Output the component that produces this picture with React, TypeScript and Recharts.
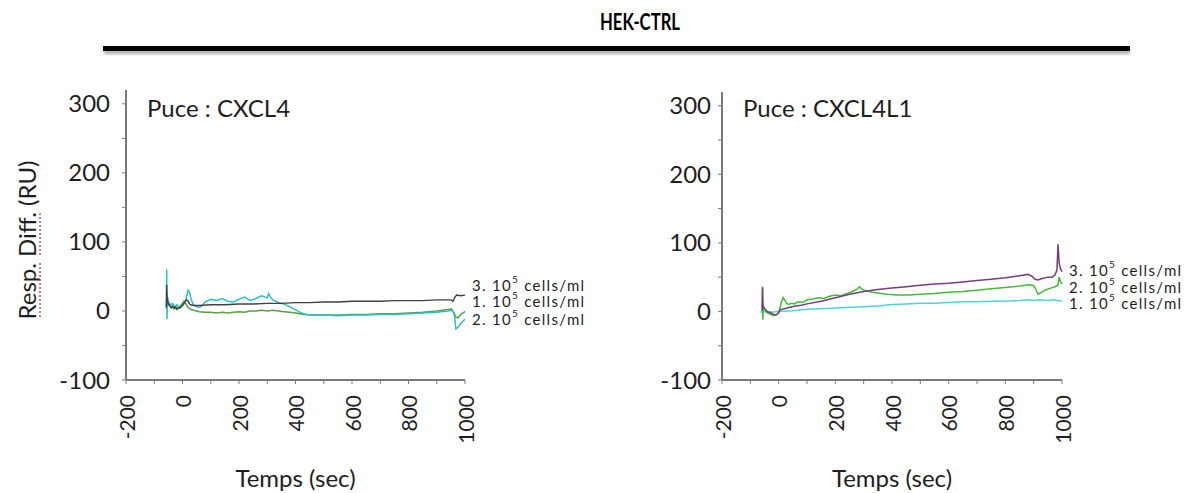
import React from 'react';
import { LineChart, Line, XAxis, YAxis, ReferenceDot } from 'recharts';

type Pt = [number, number];

// CXCL4 chip: [time (sec), differential response (RU)]
const cxcl4Cells3: Pt[] = [
  [-57, 5], [-56, 38], [-55, 22], [-53, 14], [-50, 10], [-45, 8], [-40, 5], [-35, 7], [-30, 4],
  [-25, 6], [-20, 3], [-15, 5], [-10, 4], [-5, 6], [0, 8], [5, 11], [10, 14], [15, 16], [20, 14],
  [25, 10], [30, 9], [40, 8], [60, 8], [100, 9], [150, 9], [200, 10], [250, 10], [300, 11],
  [350, 11], [400, 12], [450, 12], [500, 13], [550, 13], [600, 14], [650, 14], [700, 14],
  [750, 15], [800, 15], [850, 15], [900, 16], [950, 16], [958, 14], [963, 19], [970, 23],
  [985, 22], [1000, 23],
];
const cxcl4Cells2: Pt[] = [
  [-57, 5], [-55, 25], [-53, 14], [-50, 10], [-45, 7], [-40, 4], [-35, 6], [-30, 3], [-25, 5],
  [-20, 2], [-15, 4], [-10, 6], [-5, 9], [0, 11], [5, 14], [10, 12], [15, 8], [20, 5], [30, 2],
  [40, 1], [60, -1], [80, -2], [100, -2], [120, -3], [140, -2], [160, -3], [180, -2], [200, -1],
  [220, -2], [240, 0], [260, 0], [280, 1], [300, 0], [320, 1], [340, 0], [360, -1], [380, -2],
  [400, -3], [430, -5], [460, -6], [500, -6], [550, -6], [600, -5], [650, -5], [700, -4],
  [750, -4], [800, -3], [850, -2], [900, 0], [940, 2], [952, 3], [960, -2], [968, -9],
  [975, -10], [985, -5], [1000, -1],
];
const cxcl4Cells1: Pt[] = [
  [-57, 5], [-56, 60], [-55, -12], [-53, 20], [-50, 14], [-45, 10], [-40, 9], [-35, 11],
  [-30, 8], [-25, 6], [-20, 9], [-15, 7], [-10, 5], [-5, 6], [0, 8], [5, 10], [10, 14],
  [15, 22], [20, 30], [25, 27], [30, 18], [35, 12], [40, 9], [50, 6], [60, 5], [70, 8],
  [80, 13], [90, 15], [100, 17], [120, 15], [140, 18], [160, 14], [180, 13], [200, 17],
  [220, 20], [240, 15], [260, 18], [280, 22], [300, 19], [305, 25], [310, 21], [320, 16],
  [340, 12], [360, 10], [380, 6], [400, 2], [420, -3], [440, -5], [460, -6], [500, -6],
  [550, -7], [600, -6], [650, -6], [700, -5], [750, -5], [800, -4], [850, -3], [900, -2],
  [940, 0], [955, 1], [962, -5], [968, -26], [975, -24], [985, -18], [1000, -12],
];

// CXCL4L1 chip
const cxcl4l1Cells3: Pt[] = [
  [-58, 2], [-57, 36], [-56, 12], [-54, 6], [-50, 4], [-45, 2], [-40, 0], [-35, -1], [-30, -2],
  [-25, -3], [-20, -4], [-15, -5], [-10, -5], [-5, -4], [0, -2], [5, 2], [10, 3], [20, 4],
  [40, 6], [60, 8], [80, 9], [100, 11], [150, 15], [200, 20], [250, 25], [300, 29], [350, 32],
  [400, 34], [450, 36], [500, 38], [550, 40], [600, 41], [650, 43], [700, 45], [750, 47],
  [800, 49], [850, 52], [880, 54], [895, 51], [905, 47], [915, 46], [930, 48], [950, 50],
  [965, 50], [975, 53], [982, 60], [986, 98], [990, 70], [995, 62], [1000, 58],
];
const cxcl4l1Cells2: Pt[] = [
  [-58, 0], [-57, 34], [-56, -12], [-54, 8], [-50, 4], [-45, 0], [-40, -2], [-35, -3],
  [-30, -4], [-25, -5], [-20, -6], [-15, -6], [-10, -5], [-5, -4], [0, -1], [5, 6], [10, 14],
  [16, 20], [22, 16], [28, 12], [35, 10], [45, 12], [55, 11], [70, 14], [85, 13], [100, 17],
  [120, 18], [140, 20], [160, 19], [180, 22], [200, 24], [220, 23], [240, 26], [260, 29],
  [275, 32], [285, 36], [295, 32], [310, 30], [330, 28], [350, 27], [380, 25], [420, 24],
  [460, 24], [500, 25], [550, 26], [600, 28], [650, 29], [700, 31], [750, 33], [800, 35],
  [850, 37], [885, 39], [900, 38], [908, 32], [915, 25], [925, 27], [940, 31], [960, 34],
  [975, 36], [985, 38], [990, 50], [995, 43], [1000, 40],
];
const cxcl4l1Cells1: Pt[] = [
  [-62, -2], [-60, 3], [-58, 0], [-50, 0], [-40, -1], [-30, 0], [-20, -1], [-10, 0], [0, 0],
  [50, 1], [100, 3], [150, 4], [200, 5], [250, 6], [300, 7], [350, 8], [400, 10], [450, 11],
  [500, 12], [550, 12], [600, 13], [650, 14], [700, 14], [750, 15], [800, 15], [850, 16],
  [880, 17], [900, 16], [920, 17], [950, 16], [970, 17], [985, 16], [1000, 15],
];

const timeTicks = [-200, -100, 0, 100, 200, 300, 400, 500, 600, 700, 800, 900, 1000];
const respTicks = [-100, -50, 0, 50, 100, 150, 200, 250, 300];

const FONT = 'Lato, "Open Sans", sans-serif';
const INK = '#1e1e1e';
const AXIS = '#7a7a7a';

const toRows = (pts: Pt[]) => pts.map(([t, v]) => ({ t, v }));

const TimeTick = (props: any) => {
  const { x, y, payload } = props;
  if (payload.value % 200 !== 0) return <g />;
  return (
    <text
      x={x}
      y={y}
      transform={`rotate(-90 ${x} ${y})`}
      textAnchor="end"
      dominantBaseline="central"
      fontSize={21}
      fontFamily={FONT}
      fill={INK}
    >
      {payload.value}
    </text>
  );
};

// "n. 10^5 cells/ml" tag next to the end of a trace
const seriesTag = (num: string) => (props: any) => {
  const vb = props.viewBox || {};
  return (
    <text
      x={vb.x + 7}
      y={vb.y}
      dominantBaseline="central"
      fontSize={15}
      letterSpacing={1.3}
      fontFamily={FONT}
      fill={INK}
    >
      {num}. 10
      <tspan dy={-6} fontSize={10}>5</tspan>
      <tspan dy={6}> cells/ml</tspan>
    </text>
  );
};

type Trace = { pts: Pt[]; color: string; width: number };
type Tag = { num: string; y: number };

type PanelProps = {
  offsetX: number;
  offsetY: number;
  axisW: number;
  rightM: number;
  tickGap: number;
  traces: Trace[];
  tags: Tag[];
};

const Panel = ({ offsetX, offsetY, axisW, rightM, tickGap, traces, tags }: PanelProps) => (
  <div style={{ position: 'absolute', left: offsetX, top: offsetY }}>
    <LineChart width={600} height={493 - offsetY} margin={{ top: 90, right: rightM, bottom: 0, left: 0 }}>
      <XAxis
        dataKey="t"
        type="number"
        domain={[-200, 1000]}
        ticks={timeTicks}
        interval={0}
        tick={<TimeTick />}
        tickSize={4}
        tickMargin={11}
        height={113}
        axisLine={{ stroke: AXIS, strokeWidth: 2 }}
        tickLine={{ stroke: AXIS }}
        label={{ value: 'Temps (sec)', position: 'insideBottom', offset: 6, fontSize: 24, fontFamily: FONT, fill: INK }}
      />
      <YAxis
        type="number"
        domain={[-100, 320]}
        ticks={respTicks}
        interval={0}
        width={axisW}
        tickSize={4}
        tickMargin={tickGap}
        tickFormatter={(v: number) => (v % 100 === 0 ? String(v) : '')}
        tick={{ fontSize: 24, fontFamily: FONT, fill: INK }}
        axisLine={{ stroke: AXIS, strokeWidth: 2 }}
        tickLine={{ stroke: AXIS }}
      />
      {traces.map((tr, i) => (
        <Line
          key={i}
          data={toRows(tr.pts)}
          dataKey="v"
          type="linear"
          stroke={tr.color}
          strokeWidth={tr.width}
          dot={false}
          isAnimationActive={false}
        />
      ))}
      {tags.map((tg) => (
        <ReferenceDot
          key={tg.num}
          x={1000}
          y={tg.y}
          r={0}
          ifOverflow="visible"
          label={{ content: seriesTag(tg.num) }}
        />
      ))}
    </LineChart>
  </div>
);

export default function App() {
  return (
    <div style={{ position: 'absolute', left: 0, top: 0, width: 1200, height: 493, background: '#fff', fontFamily: FONT }}>
      <Panel
        offsetX={0}
        offsetY={0}
        axisW={126}
        rightM={135}
        tickGap={12}
        traces={[
          { pts: cxcl4Cells2, color: '#5c9f40', width: 1.5 },
          { pts: cxcl4Cells1, color: '#2bbfc6', width: 1.5 },
          { pts: cxcl4Cells3, color: '#404040', width: 1.4 },
        ]}
        tags={[
          { num: '3', y: 38 },
          { num: '1', y: 14 },
          { num: '2', y: -12 },
        ]}
      />
      <Panel
        offsetX={600}
        offsetY={2}
        axisW={122}
        rightM={138}
        tickGap={7}
        traces={[
          { pts: cxcl4l1Cells1, color: '#4fd3d6', width: 1.5 },
          { pts: cxcl4l1Cells2, color: '#46b93a', width: 1.5 },
          { pts: cxcl4l1Cells3, color: '#74407a', width: 1.5 },
        ]}
        tags={[
          { num: '3', y: 61 },
          { num: '2', y: 36 },
          { num: '1', y: 12 },
        ]}
      />
      <svg width={1200} height={493} style={{ position: 'absolute', left: 0, top: 0, pointerEvents: 'none' }}>
        <defs>
          <filter id="ruleShadow" x="-5%" y="-200%" width="110%" height="500%">
            <feGaussianBlur stdDeviation="1.5" />
          </filter>
        </defs>
        <text
          x={640}
          y={30}
          textAnchor="middle"
          fontSize={22}
          fontWeight={700}
          fontFamily={FONT}
          fill="#000"
          textLength={80}
          lengthAdjust="spacingAndGlyphs"
        >
          HEK-CTRL
        </text>
        <rect x={104} y={50} width={1026} height={4} fill="#aaa" filter="url(#ruleShadow)" />
        <rect x={103} y={46} width={1027} height={5} fill="#000" />
        <text
          x={26}
          y={240}
          transform="rotate(-90 26 240)"
          textAnchor="middle"
          dominantBaseline="central"
          fontSize={24}
          fontFamily={FONT}
          fill={INK}
        >
          Resp. Diff. (RU)
        </text>
        <line x1={40} y1={263} x2={40} y2={318} stroke="#e02020" strokeWidth={1.2} strokeDasharray="2 2" />
        <line x1={40} y1={213} x2={40} y2={256} stroke="#e02020" strokeWidth={1.2} strokeDasharray="2 2" />
        <text x={147} y={117} fontSize={24} fontFamily={FONT} fill={INK}>Puce : CXCL4</text>
        <text x={743} y={117} fontSize={24} fontFamily={FONT} fill={INK}>Puce : CXCL4L1</text>
      </svg>
    </div>
  );
}
